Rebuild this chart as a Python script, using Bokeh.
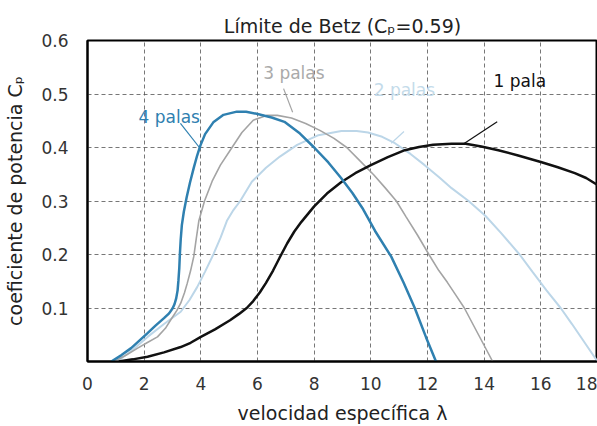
from bokeh.plotting import figure
from bokeh.models import FixedTicker, Label, Range1d
from bokeh.embed import file_html
from bokeh.resources import INLINE

# ---- data ----
x_ticks = [0, 2, 4, 6, 8, 10, 12, 14, 16, 18]
y_ticks = [0.1, 0.2, 0.3, 0.4, 0.5, 0.6]

lam_4 = [0.84, 1.2, 1.54, 1.85, 2.12, 2.4, 2.7, 2.88, 3.0, 3.07, 3.13, 3.18, 3.21, 3.24, 3.26, 3.29,
         3.33, 3.4, 3.5, 3.62, 3.75, 3.87, 3.98, 4.15, 4.44, 4.8, 5.27, 5.6, 5.97, 6.5, 6.95, 7.5,
         8.0, 8.5, 8.95, 9.35, 9.7, 10.15, 10.72, 11.15, 11.55, 11.95, 12.3]
cp_4 = [0.0, 0.012, 0.025, 0.04, 0.053, 0.067, 0.081, 0.09, 0.099, 0.107, 0.118, 0.133, 0.152, 0.175, 0.2, 0.228,
        0.255, 0.28, 0.307, 0.335, 0.362, 0.385, 0.403, 0.425, 0.447, 0.461, 0.467, 0.467, 0.463, 0.456, 0.448, 0.426,
        0.40, 0.372, 0.343, 0.315, 0.287, 0.244, 0.196, 0.148, 0.10, 0.045, 0.0]

lam_3 = [0.95, 1.4, 1.77, 2.1, 2.47, 2.75, 2.94, 3.15, 3.29, 3.42, 3.52, 3.64, 3.75, 3.84, 3.93,
         4.13, 4.4, 4.69, 5.1, 5.45, 5.85, 6.32, 6.7, 7.2, 7.7, 8.2, 8.7, 9.15, 9.6, 10.1,
         10.5, 10.9, 11.25, 11.65, 12.05, 12.4, 12.7, 13.0, 13.3, 13.8, 14.3]
cp_3 = [0.0, 0.013, 0.025, 0.035, 0.046, 0.062, 0.078, 0.095, 0.109, 0.128, 0.146, 0.17, 0.196, 0.23, 0.263,
        0.30, 0.337, 0.367, 0.40, 0.428, 0.451, 0.46, 0.46, 0.455, 0.445, 0.432, 0.417, 0.40, 0.376, 0.349,
        0.325, 0.30, 0.27, 0.236, 0.20, 0.17, 0.148, 0.124, 0.10, 0.05, 0.0]

lam_2 = [1.05, 1.6, 2.12, 2.7, 3.29, 3.6, 3.87, 4.15, 4.45, 4.7, 4.92, 5.15, 5.39, 5.8, 6.3,
         6.79, 7.4, 8.15, 8.96, 9.5, 9.9, 10.4, 10.85, 11.4, 11.9, 12.4, 12.85, 13.45, 14.05, 14.6, 15.25,
         15.7, 16.2, 16.7, 17.1, 17.55, 18.0]
cp_2 = [0.0, 0.022, 0.046, 0.07, 0.093, 0.115, 0.139, 0.168, 0.201, 0.232, 0.263, 0.283, 0.30, 0.336, 0.362,
        0.383, 0.405, 0.423, 0.431, 0.431, 0.428, 0.42, 0.408, 0.388, 0.367, 0.345, 0.324, 0.30, 0.272, 0.24, 0.20,
        0.168, 0.133, 0.10, 0.07, 0.035, 0.0]

lam_1 = [1.1, 1.6, 2.12, 2.7, 3.29, 3.64, 4.0, 4.5, 5.03, 5.35, 5.62, 5.85, 6.08, 6.3, 6.55,
         6.78, 7.05, 7.3, 7.55, 8.0, 8.45, 8.95, 9.45, 10.0, 10.6, 11.2, 11.7, 12.2, 12.85, 13.35,
         13.9, 14.5, 15.2, 16.0, 16.6, 17.2, 17.6, 18.0]
cp_1 = [0.0, 0.004, 0.009, 0.017, 0.027, 0.035, 0.046, 0.06, 0.077, 0.089, 0.1, 0.113, 0.129, 0.147, 0.17,
        0.194, 0.221, 0.243, 0.261, 0.29, 0.314, 0.335, 0.352, 0.367, 0.382, 0.395, 0.401, 0.405, 0.407, 0.407,
        0.402, 0.395, 0.385, 0.373, 0.363, 0.352, 0.343, 0.33]

FONT = "DejaVu Sans"
C4 = "#2f80b0"
C3 = "#a4a4a4"
C2 = "#bcd6e8"
C1 = "#111111"

p = figure(width=597, height=426, output_backend="svg", toolbar_location=None,
           x_range=Range1d(0, 18), y_range=Range1d(0, 0.6),
           min_border_left=87, min_border_right=0, min_border_top=40, min_border_bottom=64)
p.background_fill_color = "white"
p.border_fill_color = "white"
p.outline_line_color = "black"
p.outline_line_width = 2

p.title.text = "Límite de Betz (Cₚ=0.59)"
p.title.align = "center"
p.title.text_font = FONT
p.title.text_font_size = "19px"
p.title.text_font_style = "normal"
p.title.text_color = "#222222"
p.title.standoff = 8

p.xaxis.ticker = FixedTicker(ticks=x_ticks)
p.yaxis.ticker = FixedTicker(ticks=y_ticks)
for ax in (p.xaxis, p.yaxis):
    ax.major_tick_line_color = None
    ax.minor_tick_line_color = None
    ax.axis_line_color = "black"
    ax.axis_line_width = 2
    ax.major_label_text_font = FONT
    ax.major_label_text_font_size = "17px"
    ax.major_label_text_color = "#333333"
    ax.axis_label_text_font = FONT
    ax.axis_label_text_font_size = "19px"
    ax.axis_label_text_font_style = "normal"
    ax.axis_label_text_color = "#222222"
p.xaxis.major_label_standoff = 9
p.yaxis.major_label_standoff = 13
p.xaxis.axis_label = "velocidad específica λ"
p.yaxis.axis_label = "coeficiente de potencia Cₚ"
p.xaxis.axis_label_standoff = 9
p.yaxis.axis_label_standoff = 12

for g in (p.xgrid, p.ygrid):
    g.grid_line_color = "#555555"
    g.grid_line_dash = "4 3"
    g.grid_line_width = 1
    g.grid_line_alpha = 0.8

p.line(lam_2, cp_2, line_color=C2, line_width=2)
p.line(lam_3, cp_3, line_color=C3, line_width=1.6)
p.line(lam_1, cp_1, line_color=C1, line_width=2.5)
p.line(lam_4, cp_4, line_color=C4, line_width=2.5)

# pointers
p.segment(x0=[3.28, 6.92, 11.17, 14.46], y0=[0.445, 0.51, 0.43, 0.448],
          x1=[3.95, 7.24, 10.72, 13.28], y1=[0.40, 0.466, 0.408, 0.407],
          line_color=[C4, C3, C2, C1], line_width=1.2)

labels = [("4 palas", 1.8, 0.457, C4), ("3 palas", 6.2, 0.54, "#aaaaaa"),
          ("2 palas", 10.1, 0.508, "#c4dbea"), ("1 pala", 14.33, 0.525, C1)]
for t, x, y, c in labels:
    p.add_layout(Label(x=x, y=y, text=t, text_color=c, text_font=FONT,
                       text_font_size="17px", text_baseline="middle", text_align="left"))

open("out.html", "w").write(file_html(p, INLINE))
